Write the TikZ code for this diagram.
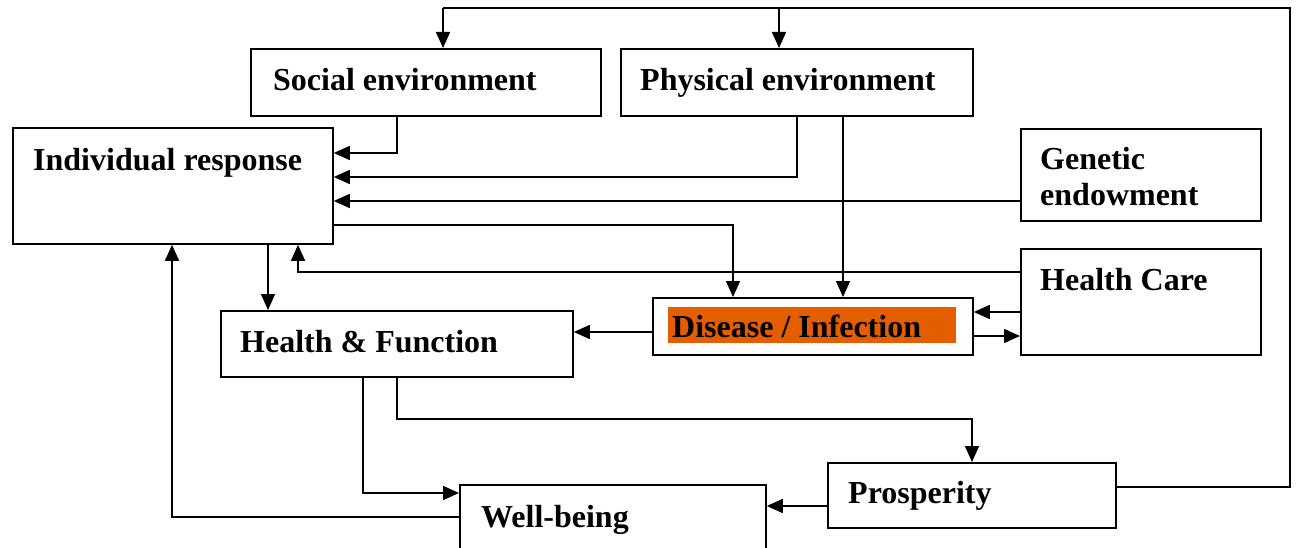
\documentclass[tikz,border=0pt]{standalone}
\usepackage{fontspec}
\setmainfont{Liberation Serif}
\usetikzlibrary{arrows.meta}
\definecolor{disorange}{RGB}{228,94,0}
\begin{document}
\begin{tikzpicture}[x=1pt,y=-1pt,
  box/.style={draw=black,line width=1.8pt,rectangle,inner sep=0pt,anchor=north west},
  lab/.style={anchor=base west,inner sep=0pt,font=\fontsize{32}{37}\selectfont\bfseries},
  arr/.style={line width=1.6pt,-{Triangle[length=16pt,width=14pt]}},
  ln/.style={line width=1.6pt}]
\useasboundingbox (0,0) rectangle (1309,548);
% boxes
\node[box,minimum width=350pt,minimum height=67pt] (soc) at (250,48) {};
\node[box,minimum width=352pt,minimum height=67pt] (phy) at (620,48) {};
\node[box,minimum width=320pt,minimum height=116pt] (ind) at (12,127) {};
\node[box,minimum width=240pt,minimum height=92pt] (gen) at (1020,128) {};
\node[box,minimum width=240pt,minimum height=106pt] (hc) at (1020,248) {};
\node[box,minimum width=320pt,minimum height=57pt] (dis) at (652,297) {};
\fill[disorange] (668,307) rectangle (956,343);
\node[box,minimum width=352pt,minimum height=66pt] (hf) at (220,310) {};
\node[box,minimum width=288pt,minimum height=65pt] (pro) at (827,462) {};
\node[box,minimum width=306pt,minimum height=64pt] (wb) at (459,484) {};
% labels
\node[lab] (tsoc) at (273,91) {Social environment};
\node[lab] (tphy) at (640,91) {Physical environment};
\node[lab] (tind) at (33,171) {Individual response};
\node[lab] (tgen1) at (1040,170) {Genetic};
\node[lab] (tgen2) at (1040,206) {endowment};
\node[lab] (thc) at (1040,290) {Health Care};
\node[lab] (tdis) at (672,337) {Disease / Infection};
\node[lab] (thf) at (240,352) {Health \& Function};
\node[lab] (tpro) at (848,503) {Prosperity};
\node[lab] (twb) at (481,527) {Well-being};
% connectors
\draw[ln] (pro.east |- 0,487) -- (1290,487) -- (1290,8) -- (443,8);
\draw[arr] (443,8) -- (443,0 |- soc.north);
\draw[arr] (779,8) -- (779,0 |- phy.north);
\draw[arr] (397,0 |- soc.south) -- (397,153) -- (ind.east |- 0,153);
\draw[arr] (797,0 |- phy.south) -- (797,177) -- (ind.east |- 0,177);
\draw[arr] (843,0 |- phy.south) -- (843,0 |- dis.north);
\draw[arr] (gen.west |- 0,201) -- (ind.east |- 0,201);
\draw[arr] (ind.east |- 0,225) -- (733,225) -- (733,0 |- dis.north);
\draw[arr] (hc.west |- 0,272) -- (298,272) -- (298,0 |- ind.south);
\draw[arr] (hc.west |- 0,312) -- (dis.east |- 0,312);
\draw[arr] (dis.east |- 0,336) -- (hc.west |- 0,336);
\draw[arr] (dis.west |- 0,332) -- (hf.east |- 0,332);
\draw[arr] (268,0 |- ind.south) -- (268,0 |- hf.north);
\draw[arr] (363,0 |- hf.south) -- (363,493) -- (wb.west |- 0,493);
\draw[arr] (397,0 |- hf.south) -- (397,419) -- (972,419) -- (972,0 |- pro.north);
\draw[arr] (pro.west |- 0,506) -- (wb.east |- 0,506);
\draw[arr] (wb.west |- 0,517) -- (172,517) -- (172,0 |- ind.south);
\end{tikzpicture}
\end{document}
